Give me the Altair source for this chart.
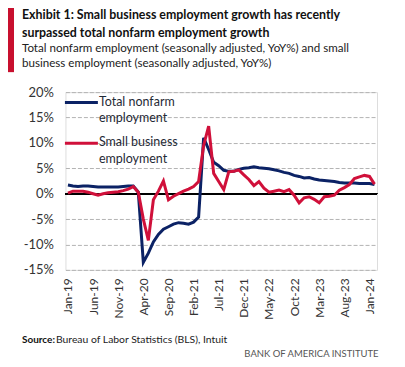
import altair as alt
import pandas as pd

FONT = "Lato"

TITLE = "Exhibit 1: Small business employment growth has recently\nsurpassed total nonfarm employment growth"
SUBTITLE = "Total nonfarm employment (seasonally adjusted, YoY%) and small\nbusiness employment (seasonally adjusted, YoY%)"
SOURCE_BOLD = "Source:"
SOURCE_TEXT = "Bureau of Labor Statistics (BLS), Intuit"
BRAND = "BANK OF AMERICA INSTITUTE"

SERIES = ["Total nonfarm\nemployment", "Small business\nemployment"]
COLORS = ["#0B2265", "#D0103A"]

MONTHS = list(pd.date_range("2019-01-01", periods=62, freq="MS").strftime("%b-%y"))
TICKS = ["Jan-19", "Jun-19", "Nov-19", "Apr-20", "Sep-20", "Feb-21", "Jul-21",
         "Dec-21", "May-22", "Oct-22", "Mar-23", "Aug-23", "Jan-24"]
Y_TICKS = [-15, -10, -5, 0, 5, 10, 15, 20]

TOTAL_NONFARM = [1.7, 1.5, 1.4, 1.5, 1.5, 1.4, 1.3, 1.3, 1.3, 1.3, 1.3, 1.4,
                 1.5, 1.5, 0.3, -13.5, -11.7, -9.5, -8.0, -7.0, -6.5, -6.0, -5.7, -5.8,
                 -6.0, -5.6, -4.6, 11.0, 8.7, 6.2, 5.5, 4.6, 4.4, 4.4, 4.8, 5.0,
                 5.1, 5.3, 5.1, 5.0, 4.9, 4.7, 4.5, 4.2, 4.0, 3.6, 3.4, 3.1,
                 3.2, 2.9, 2.7, 2.6, 2.5, 2.4, 2.2, 2.1, 2.1, 2.1, 2.0, 2.0,
                 2.0, 1.8]
SMALL_BUSINESS = [0.1, 0.5, 0.5, 0.5, 0.3, 0.0, -0.3, 0.0, 0.2, 0.3, 0.4, 0.6,
                  0.9, 1.4, 0.3, -5.0, -9.2, -1.2, 0.5, 2.5, -1.2, -0.5, 0.0, 0.5,
                  0.9, 1.4, 2.4, 9.5, 13.3, 4.0, 2.4, 0.8, 4.3, 4.4, 4.7, 3.7,
                  2.8, 1.6, 2.4, 1.1, 0.3, 0.5, 0.7, 0.4, 0.8, -0.3, -1.8, -0.8,
                  -0.6, -1.1, -1.8, -0.6, -0.5, -0.3, 0.7, 1.2, 1.8, 3.0, 3.3, 3.6,
                  3.4, 1.9]

df = pd.DataFrame({"month": MONTHS, "total": TOTAL_NONFARM, "small": SMALL_BUSINESS})

x_enc = alt.X("month:O", sort=MONTHS,
              scale=alt.Scale(type="point", padding=0.5),
              axis=alt.Axis(title=None, values=TICKS, labelAngle=270, ticks=False,
                            domain=False, grid=False, labelPadding=8,
                            labelFont=FONT, labelFontSize=12, labelColor="#333"))
y_scale = alt.Scale(domain=[-15, 20], nice=False, zero=False)
y_axis = alt.Axis(title=None, values=Y_TICKS, labelExpr="datum.value + '%'",
                  ticks=False, domain=False, grid=True, gridColor="#b3b3b3",
                  gridDash=[4, 2], gridWidth=1, labelPadding=12, labelOverlap=False,
                  labelFont=FONT, labelFontSize=13, labelColor="#333")

base = alt.Chart(df)

zero = base.mark_rule(color="black", strokeWidth=1.5).encode(
    y=alt.Y(datum=0, scale=y_scale, axis=y_axis))
blue = base.mark_line(color=COLORS[0], strokeWidth=3).encode(
    x=x_enc, y=alt.Y("total:Q", scale=y_scale, axis=y_axis))
red = base.mark_line(color=COLORS[1], strokeWidth=3).encode(
    x=x_enc, y=alt.Y("small:Q", scale=y_scale, axis=y_axis))


def one(text):
    return alt.Chart(pd.DataFrame({"t": [text]}))


def label(text, x, y, size, weight="normal", color="#222", align="left", lh=None):
    kw = dict(align=align, baseline="middle", font=FONT, fontSize=size,
              fontWeight=weight, color=color, lineBreak="\n")
    if lh is not None:
        kw["lineHeight"] = lh
    return one(text).mark_text(**kw).encode(x=alt.value(x), y=alt.value(y), text="t:N")


def legend_item(text, color, y):
    rule = one(text).mark_rule(color=color, strokeWidth=3).encode(
        x=alt.value(-0.5), x2=alt.value(32.5), y=alt.value(y))
    return rule + label(text, 33.5, y - 1, 12.5, color="#1f2a36", lh=16.5)


leg1 = legend_item(SERIES[0], COLORS[0], 10.5)
leg2 = legend_item(SERIES[1], COLORS[1], 51.3)

bar = one("bar").mark_rule(color="#C8102E", strokeWidth=7).encode(
    x=alt.value(-55), y=alt.value(-88), y2=alt.value(-20))

title = label(TITLE, -43.5, -77, 12.4, weight="bold", color="#111", lh=17.5)
subtitle = label(SUBTITLE, -43.5, -43, 11.6, color="#222", lh=15)
src_b = label(SOURCE_BOLD, -43.5, 248, 10, weight="bold", color="#111")
src_t = label(SOURCE_TEXT, -9.5, 248, 10.4, color="#222")
brand = label(BRAND, 313.5, 262, 9.5, color="#555", align="right")

chart = alt.layer(zero, blue, red, leg1, leg2, bar, title, subtitle,
                  src_b, src_t, brand).properties(
    width=312, height=178,
    autosize=alt.AutoSizeParams(type="none"),
    padding={"left": 57.5, "top": 84, "right": 20, "bottom": 90},
).configure_view(stroke=None).configure_axis(labelOverlap=False).configure(background="white")

chart.save("out.html", embed_options={"renderer": "svg", "actions": False})
